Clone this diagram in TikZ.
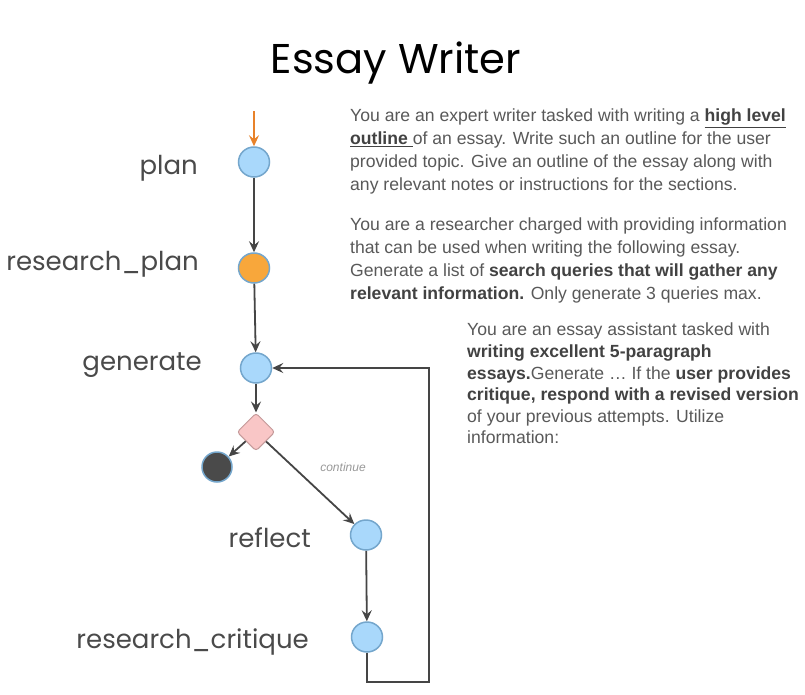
\documentclass[tikz,border=0pt]{standalone}
\usepackage{fontspec}
\setmainfont{Liberation Sans}
\newfontfamily\pop{Poppins}
\usetikzlibrary{arrows.meta,shapes.geometric}
\definecolor{nblue}{HTML}{A9D8FB}
\definecolor{nbord}{HTML}{74A6CC}
\definecolor{norange}{HTML}{F8A73B}
\definecolor{npink}{HTML}{F9C6C6}
\definecolor{npinkb}{HTML}{C49A9A}
\definecolor{ndark}{HTML}{4A4A4A}
\definecolor{edge}{HTML}{454545}
\definecolor{txt}{HTML}{595959}
\definecolor{txtb}{HTML}{424242}
\definecolor{arrorange}{HTML}{E8822A}
\begin{document}
\begin{tikzpicture}[x=1pt,y=-1pt,
  state/.style={ellipse,draw=nbord,line width=1.5pt,fill=nblue,minimum width=31pt,minimum height=30pt,inner sep=0pt},
  lbl/.style={anchor=base east,font=\pop\fontsize{26}{30}\selectfont,text=ndark,inner sep=0pt},
  para/.style={anchor=north west,align=left,inner sep=0pt,text=txt},
  conn/.style={draw=edge,line width=1.8pt,-{Stealth[length=11pt,width=10pt,inset=4pt]}}
]
\useasboundingbox (0,0) rectangle (805,694);
\fill[white] (0,0) rectangle (805,694);

\node[anchor=base,font=\pop\fontsize{41.6}{50}\selectfont,text=black,inner sep=0pt] (title) at (396,73) {Essay Writer};

\node[state] (plan) at (254,162) {};
\node[state,fill=norange] (rplan) at (254,268) {};
\node[state] (gen) at (256,368) {};
\node[diamond,draw=npinkb,fill=npink,line width=1pt,minimum width=38pt,minimum height=38pt,inner sep=0pt,rounded corners=3pt] (dec) at (256,432) {};
\node[circle,draw=nbord,fill=ndark,line width=1.5pt,minimum size=30pt,inner sep=0pt] (end) at (217,467) {};
\node[state] (refl) at (366,535) {};
\node[state] (rcrit) at (367,637) {};

\node[lbl] (lplan) at (198,174) {plan};
\node[lbl] (lrplan) at (199,270) {research\_plan};
\node[lbl] (lgen) at (202,370) {generate};
\node[lbl] (lrefl) at (311,547) {reflect};
\node[lbl] (lrcrit) at (309,648) {research\_critique};

\coordinate (start) at (254,111);
\coordinate (c1) at (367,682);
\coordinate (c2) at (429,682);
\coordinate (c3) at (429,368);

\draw[draw=arrorange,line width=1.8pt,-{Stealth[length=11pt,width=10pt,inset=4pt]}] (start) -- (plan);
\draw[conn] (plan) -- (rplan);
\draw[conn] (rplan) -- (gen);
\draw[conn] (gen) -- (dec);
\draw[conn] (dec) -- (end);
\draw[conn] (dec) -- (refl);
\draw[conn] (refl) -- (rcrit);
\draw[conn] (rcrit.south) -- (c1) -- (c2) -- (c3) -- (gen);

\node[font=\itshape\fontsize{12}{14}\selectfont,text=gray!80] (cont) at (343,467) {continue};

\node[para,font=\fontsize{17.6}{23}\selectfont] (p1) at (350,109) {You are an expert writer tasked with writing a \textcolor{txtb}{\textbf{\underline{high level}}}\\
\textcolor{txtb}{\textbf{\underline{outline\ }}}of an essay. Write such an outline for the user\\
provided topic. Give an outline of the essay along with\\
any relevant notes or instructions for the sections.};

\node[para,font=\fontsize{17.6}{23}\selectfont] (p2) at (350,218) {You are a researcher charged with providing information\\
that can be used when writing the following essay.\\
Generate a list of \textcolor{txtb}{\textbf{search queries that will gather any}}\\
\textcolor{txtb}{\textbf{relevant information.}} Only generate 3 queries max.};

\node[para,font=\fontsize{17.6}{21.6}\selectfont] (p3) at (467,323) {You are an essay assistant tasked with\\
\textcolor{txtb}{\textbf{writing excellent 5-paragraph}}\\
\textcolor{txtb}{\textbf{essays.}}Generate \dots\ If the \textcolor{txtb}{\textbf{user provides}}\\
\textcolor{txtb}{\textbf{critique, respond with a revised version}}\\
of your previous attempts. Utilize\\
information:};
\end{tikzpicture}
\end{document}
